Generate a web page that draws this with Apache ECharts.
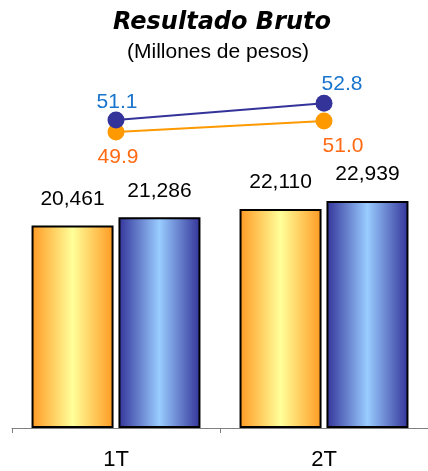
<!DOCTYPE html>
<html><head><meta charset="utf-8">
<script src="https://cdn.jsdelivr.net/npm/echarts@6/dist/echarts.min.js"></script>
<style>html,body{margin:0;padding:0;background:#fff}#c{width:428px;height:471px}</style>
</head><body><div id="c"></div>
<script>
const categories = ['1T', '2T'];
const barSeriesA = [20461, 22110];   // orange bars
const barSeriesB = [21286, 22939];   // blue bars
const lineSeriesA = [49.9, 51.0];    // orange line
const lineSeriesB = [51.1, 52.8];    // blue line
const titleText = 'Resultado Bruto';
const subtitleText = '(Millones de pesos)';

const lineALabelOffsets = [[2, 25], [19, 25]];
const lineBLabelOffsets = [[1, -18], [18, -19]];

function grad(edge, mid) {
  return new echarts.graphic.LinearGradient(0, 0, 1, 0, [
    {offset: 0, color: edge}, {offset: 0.5, color: mid}, {offset: 1, color: edge}
  ]);
}
function fmt(v) { return v.toLocaleString('en-US'); }

const FONT = 'Liberation Sans, Arial';
const chart = echarts.init(document.getElementById('c'));
chart.setOption({
  animation: false,
  backgroundColor: '#fff',
  graphic: [
    {type: 'text', left: 113, top: 11, style: {text: titleText, fontFamily: 'DejaVu Sans', fontStyle: 'italic', fontWeight: 'bold', fontSize: 24, fill: '#000'}},
    {type: 'text', left: 127, top: 42, style: {text: subtitleText, fontFamily: FONT, fontSize: 21, fill: '#000'}}
  ],
  grid: {left: 12, right: -2, top: 32, bottom: 39},
  xAxis: {
    type: 'category', data: categories, boundaryGap: true,
    axisLine: {lineStyle: {color: '#808080', width: 1}},
    axisTick: {show: true, length: 5, lineStyle: {color: '#808080'}},
    axisLabel: {fontFamily: FONT, fontSize: 22, color: '#000', margin: 21}
  },
  yAxis: [
    {type: 'value', min: 0, max: 40000, show: false, splitLine: {show: false}},
    {type: 'value', min: 20, max: 60, show: false, splitLine: {show: false}}
  ],
  series: [
    {type: 'bar', data: barSeriesA, barWidth: 82, barGap: '6%',
     itemStyle: {color: grad('#FF9922', '#FFFF99'), borderColor: '#000', borderWidth: 2},
     label: {show: true, position: 'top', distance: 16, formatter: p => fmt(p.value), fontFamily: FONT, fontSize: 21, color: '#000'}},
    {type: 'bar', data: barSeriesB, barWidth: 82, barGap: '6%',
     itemStyle: {color: grad('#333399', '#99CCFF'), borderColor: '#000', borderWidth: 2},
     label: {show: true, position: 'top', distance: 16, formatter: p => fmt(p.value), fontFamily: FONT, fontSize: 21, color: '#000'}},
    {type: 'line', yAxisIndex: 1, symbol: 'circle', symbolSize: 17,
     data: lineSeriesA.map((v, i) => ({value: v, label: {offset: lineALabelOffsets[i]}})),
     lineStyle: {color: '#FF9900', width: 2}, itemStyle: {color: '#FF9900'},
     label: {show: true, position: 'inside', formatter: p => p.value.toFixed(1), fontFamily: FONT, fontSize: 21, color: '#FF6A13'}},
    {type: 'line', yAxisIndex: 1, symbol: 'circle', symbolSize: 17,
     data: lineSeriesB.map((v, i) => ({value: v, label: {offset: lineBLabelOffsets[i]}})),
     lineStyle: {color: '#333399', width: 2}, itemStyle: {color: '#333399'},
     label: {show: true, position: 'inside', formatter: p => p.value.toFixed(1), fontFamily: FONT, fontSize: 21, color: '#1874CD'}}
  ]
});
</script></body></html>
